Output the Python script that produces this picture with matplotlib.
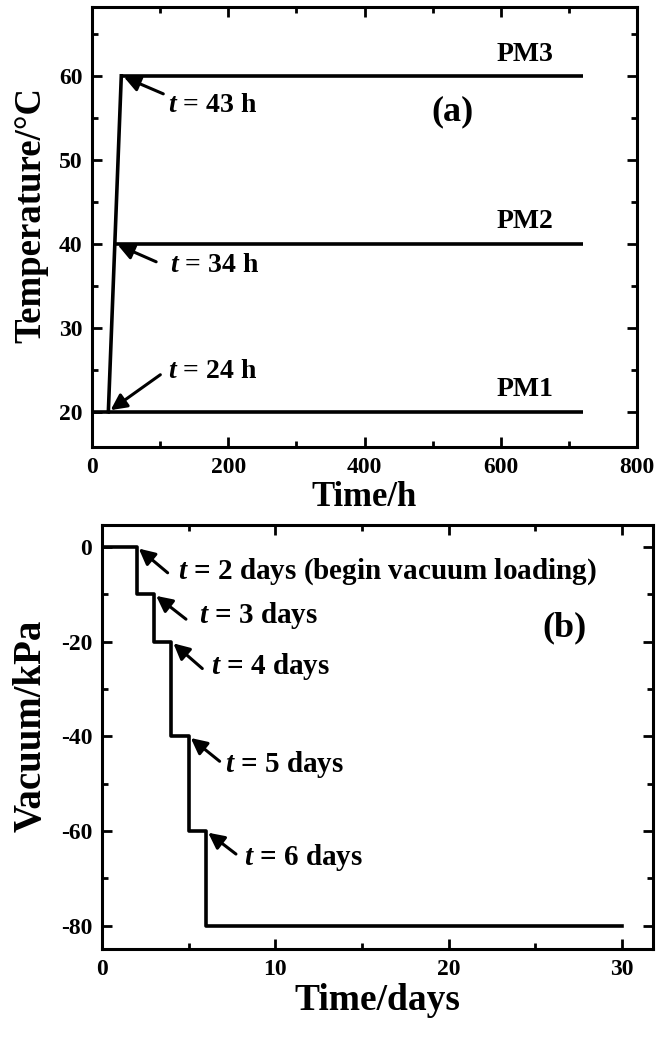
import numpy as np
import matplotlib
matplotlib.use("Agg")
import matplotlib.pyplot as plt
from matplotlib.ticker import MultipleLocator

plt.rcParams['font.family'] = ['Liberation Serif', 'DejaVu Serif']
plt.rcParams['font.weight'] = 'bold'
plt.rcParams['axes.labelweight'] = 'bold'
plt.rcParams['axes.unicode_minus'] = False
plt.rcParams['mathtext.fontset'] = 'custom'
plt.rcParams['mathtext.it'] = 'Liberation Serif:italic:bold'
plt.rcParams['mathtext.rm'] = 'Liberation Serif:bold'

# (a) temperature histories of the three models
t_end_h = 720
pm_names = ["PM1", "PM2", "PM3"]
pm_temps = [20, 40, 60]
ramp_times = [24, 34, 43]        # h at which each target is reached
ramp_labels = ["t = 24 h", "t = 34 h", "t = 43 h"]

# (b) vacuum loading steps
step_days = [0, 2, 3, 4, 5, 6, 30]
step_vacuum = [0, -10, -20, -40, -60, -80, -80]
step_labels = ["2 days (begin vacuum loading)", "3 days", "4 days", "5 days", "6 days"]

W, H = 661, 1048
fig = plt.figure(figsize=(W / 100, H / 100), dpi=100)
ax1 = fig.add_axes([92 / W, 1 - 447 / H, 545 / W, 440 / H])
ax2 = fig.add_axes([102 / W, 1 - 949 / H, 551 / W, 424 / H])

lw = 2.6
arrow = dict(arrowstyle='-|>', color='k', lw=2.2, mutation_scale=24, shrinkA=0, shrinkB=2)

# ramp line from 20 to 60 degC, then constant plateaus
ax1.plot([0, ramp_times[0]], [pm_temps[0], pm_temps[0]], color='k', lw=lw)
ax1.plot([ramp_times[0], ramp_times[2]], [pm_temps[0], pm_temps[2]], color='k', lw=lw)
for name, temp, tr in zip(pm_names, pm_temps, ramp_times):
    ax1.plot([tr, t_end_h], [temp, temp], color='k', lw=lw, solid_capstyle='butt')
    ax1.text(635, temp + 2.6, name, ha='center', va='center', fontsize=20)

arrow_offsets = [(52, 37), (41, -18), (42, -18)]
text_offsets = [(60, 40), (55, -22), (47, -30)]
for tr, temp, lab, aoff, toff in zip(ramp_times, pm_temps, ramp_labels, arrow_offsets, text_offsets):
    ax1.annotate('', xy=(tr, temp), xytext=aoff, textcoords='offset pixels', arrowprops=arrow)
    ax1.annotate(lab.replace('t =', '$t$ ='), xy=(tr, temp), xytext=toff, textcoords='offset pixels',
                 ha='left', va='center', fontsize=20)

ax1.text(0.662, 0.761, "(a)", transform=ax1.transAxes, ha='center', va='center', fontsize=26)
ax1.set_xlim(0, 800)
ax1.set_ylim(15.8, 68.2)
ax1.xaxis.set_major_locator(MultipleLocator(200))
ax1.xaxis.set_minor_locator(MultipleLocator(100))
ax1.yaxis.set_major_locator(MultipleLocator(10))
ax1.yaxis.set_minor_locator(MultipleLocator(5))
ax1.set_xlabel("Time/h", fontsize=25, labelpad=2)
ax1.set_ylabel("Temperature/°C", fontsize=26.5)
ax1.yaxis.set_label_coords(-0.08, 0.527)

ax2.plot(step_days, step_vacuum, drawstyle='steps-post', color='k', lw=lw)
b_arrow_offsets = [(31, -26), (32, -25), (31, -27), (31, -25), (30, -23)]
b_text_offsets = [(41, -25), (45, -21), (40, -25), (36, -28), (38, -26)]
for d, v, lab, aoff, toff in zip(step_days[1:6], step_vacuum[:5], step_labels, b_arrow_offsets, b_text_offsets):
    ax2.annotate('', xy=(d, v), xytext=aoff, textcoords='offset pixels', arrowprops=arrow)
    ax2.annotate('$t$ = ' + lab, xy=(d, v), xytext=toff, textcoords='offset pixels',
                 ha='left', va='center', fontsize=21)

ax2.text(0.84, 0.757, "(b)", transform=ax2.transAxes, ha='center', va='center', fontsize=26)
ax2.set_xlim(0, 31.8)
ax2.set_ylim(-84.9, 4.6)
ax2.xaxis.set_major_locator(MultipleLocator(10))
ax2.xaxis.set_minor_locator(MultipleLocator(5))
ax2.yaxis.set_major_locator(MultipleLocator(20))
ax2.yaxis.set_minor_locator(MultipleLocator(10))
ax2.set_xlabel("Time/days", fontsize=27, labelpad=2)
ax2.set_ylabel("Vacuum/kPa", fontsize=28)
ax2.yaxis.set_label_coords(-0.095, 0.526)

for ax in (ax1, ax2):
    for s in ax.spines.values():
        s.set_linewidth(2.2)
    ax.tick_params(which='both', direction='in', top=True, right=True, width=2, labelsize=17, pad=7)
    ax.tick_params(which='major', length=7)
    ax.tick_params(which='minor', length=4)

fig.savefig("out.png", dpi=100)
